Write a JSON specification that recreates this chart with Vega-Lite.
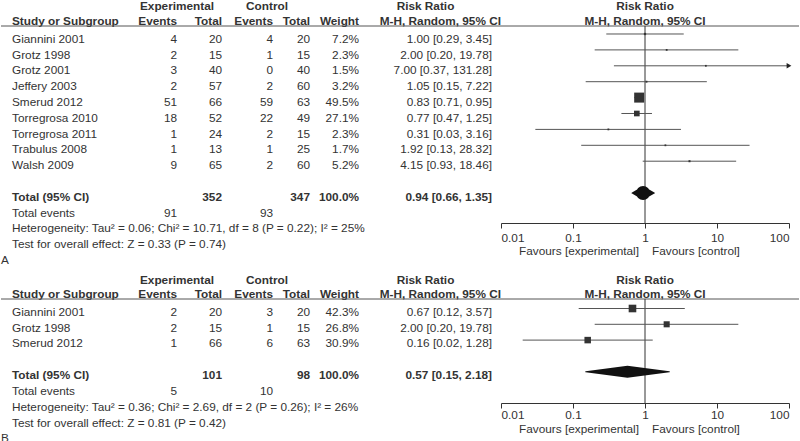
{
"$schema": "https://vega.github.io/schema/vega-lite/v6.json",
"padding": 0,
"background": "white",
"spacing": 0,
"bounds": "flush",
"columns": 10,
"config": {"view": {"stroke": null}, "text": {"font": "Liberation Sans", "fontSize": 11.8, "color": "#333"}},
"datasets": {
"tbl": [
{"p":"A","k":"st","row":0,"s":"Giannini 2001","ee":4,"et":20,"ce":4,"ct":20,"wt":"7.2%","w":7.2,"rt":"1.00 [0.29, 3.45]","rr":1.0,"lo":0.29,"hi":3.45},
{"p":"A","k":"st","row":1,"s":"Grotz 1998","ee":2,"et":15,"ce":1,"ct":15,"wt":"2.3%","w":2.3,"rt":"2.00 [0.20, 19.78]","rr":2.0,"lo":0.2,"hi":19.78},
{"p":"A","k":"st","row":2,"s":"Grotz 2001","ee":3,"et":40,"ce":0,"ct":40,"wt":"1.5%","w":1.5,"rt":"7.00 [0.37, 131.28]","rr":7.0,"lo":0.37,"hi":131.28},
{"p":"A","k":"st","row":3,"s":"Jeffery 2003","ee":2,"et":57,"ce":2,"ct":60,"wt":"3.2%","w":3.2,"rt":"1.05 [0.15, 7.22]","rr":1.05,"lo":0.15,"hi":7.22},
{"p":"A","k":"st","row":4,"s":"Smerud 2012","ee":51,"et":66,"ce":59,"ct":63,"wt":"49.5%","w":49.5,"rt":"0.83 [0.71, 0.95]","rr":0.83,"lo":0.71,"hi":0.95},
{"p":"A","k":"st","row":5,"s":"Torregrosa 2010","ee":18,"et":52,"ce":22,"ct":49,"wt":"27.1%","w":27.1,"rt":"0.77 [0.47, 1.25]","rr":0.77,"lo":0.47,"hi":1.25},
{"p":"A","k":"st","row":6,"s":"Torregrosa 2011","ee":1,"et":24,"ce":2,"ct":15,"wt":"2.3%","w":2.3,"rt":"0.31 [0.03, 3.16]","rr":0.31,"lo":0.03,"hi":3.16},
{"p":"A","k":"st","row":7,"s":"Trabulus 2008","ee":1,"et":13,"ce":1,"ct":25,"wt":"1.7%","w":1.7,"rt":"1.92 [0.13, 28.32]","rr":1.92,"lo":0.13,"hi":28.32},
{"p":"A","k":"st","row":8,"s":"Walsh 2009","ee":9,"et":65,"ce":2,"ct":60,"wt":"5.2%","w":5.2,"rt":"4.15 [0.93, 18.46]","rr":4.15,"lo":0.93,"hi":18.46},
{"p":"A","k":"tot","row":10,"s":"Total (95% CI)","et":352,"ct":347,"wt":"100.0%","rt":"0.94 [0.66, 1.35]","rr":0.94,"lo":0.66,"hi":1.35},
{"p":"A","k":"ev","row":11,"s":"Total events","ee":91,"ce":93},
{"p":"A","k":"note","row":12,"s":"Heterogeneity: Tau² = 0.06; Chi² = 10.71, df = 8 (P = 0.22); I² = 25%"},
{"p":"A","k":"note","row":13,"s":"Test for overall effect: Z = 0.33 (P = 0.74)"},
{"p":"A","k":"lab","row":14,"lab":"A"},
{"p":"B","k":"st","row":0,"s":"Giannini 2001","ee":2,"et":20,"ce":3,"ct":20,"wt":"42.3%","w":42.3,"rt":"0.67 [0.12, 3.57]","rr":0.67,"lo":0.12,"hi":3.57},
{"p":"B","k":"st","row":1,"s":"Grotz 1998","ee":2,"et":15,"ce":1,"ct":15,"wt":"26.8%","w":26.8,"rt":"2.00 [0.20, 19.78]","rr":2.0,"lo":0.2,"hi":19.78},
{"p":"B","k":"st","row":2,"s":"Smerud 2012","ee":1,"et":66,"ce":6,"ct":63,"wt":"30.9%","w":30.9,"rt":"0.16 [0.02, 1.28]","rr":0.16,"lo":0.02,"hi":1.28},
{"p":"B","k":"tot","row":4,"s":"Total (95% CI)","et":101,"ct":98,"wt":"100.0%","rt":"0.57 [0.15, 2.18]","rr":0.57,"lo":0.15,"hi":2.18},
{"p":"B","k":"ev","row":5,"s":"Total events","ee":5,"ce":10},
{"p":"B","k":"note","row":6,"s":"Heterogeneity: Tau² = 0.36; Chi² = 2.69, df = 2 (P = 0.26); I² = 26%"},
{"p":"B","k":"note","row":7,"s":"Test for overall effect: Z = 0.81 (P = 0.42)"},
{"p":"B","k":"lab","row":8,"lab":"B"}
],
"hdr": [
{"v":"study","h":2,"t":"Study or Subgroup"},
{"v":"expE","h":1,"t":"Experimental","a":"c"},
{"v":"expE","h":2,"t":"Events","a":"r"},
{"v":"expT","h":2,"t":"Total"},
{"v":"ctl1","h":1,"t":"Control"},
{"v":"ctl2","h":2,"t":"Events"},
{"v":"ctlT","h":2,"t":"Total"},
{"v":"wt","h":2,"t":"Weight"},
{"v":"rr1","h":1,"t":"Risk Ratio"},
{"v":"rr2","h":2,"t":"M-H, Random, 95% CI"},
{"v":"fp","h":1,"t":"Risk Ratio"},
{"v":"fp","h":2,"t":"M-H, Random, 95% CI"}
]
},
"concat": [
 {"width":22,"height":26,"layer":[
  {"data":{"name":"hdr"},"transform":[{"filter":"datum.v=='study'"}],"mark":{"type":"text","align":"left","fontWeight":"bold"},"encoding":{"y":{"field":"h","type":"quantitative","scale":{"domain":[0.5563,2.3873],"reverse":true,"nice":false,"zero":false},"axis":null},"text":{"field":"t"}}},
  {"data":{"values":[{}]},"mark":{"type":"rule","color":"#555"},"encoding":{"y":{"value":"height"}}}]},
 {"width":154,"height":26,"layer":[
  {"data":{"name":"hdr"},"transform":[{"filter":"datum.v=='expE' && datum.a=='c'"}],"mark":{"type":"text","fontWeight":"bold"},"encoding":{"x":{"value":"width"},"y":{"field":"h","type":"quantitative","scale":{"domain":[0.5563,2.3873],"reverse":true,"nice":false,"zero":false},"axis":null},"text":{"field":"t"}}},
  {"data":{"name":"hdr"},"transform":[{"filter":"datum.v=='expE' && datum.a=='r'"}],"mark":{"type":"text","align":"right","fontWeight":"bold"},"encoding":{"x":{"value":"width"},"y":{"field":"h","type":"quantitative","scale":{"domain":[0.5563,2.3873],"reverse":true,"nice":false,"zero":false},"axis":null},"text":{"field":"t"}}},
  {"data":{"values":[{}]},"mark":{"type":"rule","color":"#555"},"encoding":{"y":{"value":"height"}}}]},
 {"width":45,"height":26,"layer":[
  {"data":{"name":"hdr"},"transform":[{"filter":"datum.v=='expT'"}],"mark":{"type":"text","align":"right","fontWeight":"bold"},"encoding":{"x":{"value":"width"},"y":{"field":"h","type":"quantitative","scale":{"domain":[0.5563,2.3873],"reverse":true,"nice":false,"zero":false},"axis":null},"text":{"field":"t"}}},
  {"data":{"values":[{}]},"mark":{"type":"rule","color":"#555"},"encoding":{"y":{"value":"height"}}}]},
 {"width":45,"height":26,"layer":[
  {"data":{"name":"hdr"},"transform":[{"filter":"datum.v=='ctl1'"}],"mark":{"type":"text","fontWeight":"bold"},"encoding":{"x":{"value":"width"},"y":{"field":"h","type":"quantitative","scale":{"domain":[0.5563,2.3873],"reverse":true,"nice":false,"zero":false},"axis":null},"text":{"field":"t"}}},
  {"data":{"values":[{}]},"mark":{"type":"rule","color":"#555"},"encoding":{"y":{"value":"height"}}}]},
 {"width":6,"height":26,"layer":[
  {"data":{"name":"hdr"},"transform":[{"filter":"datum.v=='ctl2'"}],"mark":{"type":"text","align":"right","fontWeight":"bold"},"encoding":{"x":{"value":"width"},"y":{"field":"h","type":"quantitative","scale":{"domain":[0.5563,2.3873],"reverse":true,"nice":false,"zero":false},"axis":null},"text":{"field":"t"}}},
  {"data":{"values":[{}]},"mark":{"type":"rule","color":"#555"},"encoding":{"y":{"value":"height"}}}]},
 {"width":37,"height":26,"layer":[
  {"data":{"name":"hdr"},"transform":[{"filter":"datum.v=='ctlT'"}],"mark":{"type":"text","align":"right","fontWeight":"bold"},"encoding":{"x":{"value":"width"},"y":{"field":"h","type":"quantitative","scale":{"domain":[0.5563,2.3873],"reverse":true,"nice":false,"zero":false},"axis":null},"text":{"field":"t"}}},
  {"data":{"values":[{}]},"mark":{"type":"rule","color":"#555"},"encoding":{"y":{"value":"height"}}}]},
 {"width":49,"height":26,"layer":[
  {"data":{"name":"hdr"},"transform":[{"filter":"datum.v=='wt'"}],"mark":{"type":"text","align":"right","fontWeight":"bold"},"encoding":{"x":{"value":"width"},"y":{"field":"h","type":"quantitative","scale":{"domain":[0.5563,2.3873],"reverse":true,"nice":false,"zero":false},"axis":null},"text":{"field":"t"}}},
  {"data":{"values":[{}]},"mark":{"type":"rule","color":"#555"},"encoding":{"y":{"value":"height"}}}]},
 {"width":133,"height":26,"layer":[
  {"data":{"name":"hdr"},"transform":[{"filter":"datum.v=='rr1'"}],"mark":{"type":"text","fontWeight":"bold"},"encoding":{"y":{"field":"h","type":"quantitative","scale":{"domain":[0.5563,2.3873],"reverse":true,"nice":false,"zero":false},"axis":null},"text":{"field":"t"}}},
  {"data":{"values":[{}]},"mark":{"type":"rule","color":"#555"},"encoding":{"y":{"value":"height"}}}]},
 {"width":9,"height":26,"layer":[
  {"data":{"name":"hdr"},"transform":[{"filter":"datum.v=='rr2'"}],"mark":{"type":"text","align":"right","fontWeight":"bold"},"encoding":{"x":{"value":"width"},"y":{"field":"h","type":"quantitative","scale":{"domain":[0.5563,2.3873],"reverse":true,"nice":false,"zero":false},"axis":null},"text":{"field":"t"}}},
  {"data":{"values":[{}]},"mark":{"type":"rule","color":"#555"},"encoding":{"y":{"value":"height"}}}]},
 {"width":298,"height":26,"layer":[
  {"data":{"name":"hdr"},"transform":[{"filter":"datum.v=='fp'"}],"mark":{"type":"text","fontWeight":"bold"},"encoding":{"x":{"datum":1,"type":"quantitative","scale":{"type":"log","domain":[0.01,100],"range":[0,288]},"axis":null},"y":{"field":"h","type":"quantitative","scale":{"domain":[0.5563,2.3873],"reverse":true,"nice":false,"zero":false},"axis":null},"text":{"field":"t"}}},
  {"data":{"values":[{}]},"mark":{"type":"rule","color":"#555"},"encoding":{"y":{"value":"height"}}}]},

 {"width":22,"height":197,"data":{"name":"tbl"},"transform":[{"filter":"datum.p=='A'"}],"encoding":{"y":{"field":"row","type":"quantitative","scale":{"domain":[-0.8101,11.6583],"reverse":true,"nice":false,"zero":false},"axis":null}},"layer":[
  {"transform":[{"filter":"isValid(datum.s) && datum.k!='tot'"}],"mark":{"type":"text","align":"left"},"encoding":{"text":{"field":"s"}}},
  {"transform":[{"filter":"datum.k=='tot'"}],"mark":{"type":"text","align":"left","fontWeight":"bold"},"encoding":{"text":{"field":"s"}}},
  {"transform":[{"filter":"datum.k=='lab'"}],"mark":{"type":"text","align":"left"},"encoding":{"x":{"value":0},"text":{"field":"lab"}}}]},
 {"width":154,"height":197,"data":{"name":"tbl"},"transform":[{"filter":"datum.p=='A' && isValid(datum.ee)"}],"mark":{"type":"text","align":"right"},"encoding":{"x":{"value":"width"},"y":{"field":"row","type":"quantitative","scale":{"domain":[-0.8101,11.6583],"reverse":true,"nice":false,"zero":false},"axis":null},"text":{"field":"ee"}}},
 {"width":45,"height":197,"data":{"name":"tbl"},"transform":[{"filter":"datum.p=='A' && isValid(datum.et)"}],"encoding":{"x":{"value":"width"},"y":{"field":"row","type":"quantitative","scale":{"domain":[-0.8101,11.6583],"reverse":true,"nice":false,"zero":false},"axis":null},"text":{"field":"et"}},"layer":[
  {"transform":[{"filter":"datum.k!='tot'"}],"mark":{"type":"text","align":"right"}},
  {"transform":[{"filter":"datum.k=='tot'"}],"mark":{"type":"text","align":"right","fontWeight":"bold"}}]},
 {"width":45,"height":197,"data":{"values":[{}]},"mark":{"type":"text","text":""}},
 {"width":6,"height":197,"data":{"name":"tbl"},"transform":[{"filter":"datum.p=='A' && isValid(datum.ce)"}],"mark":{"type":"text","align":"right"},"encoding":{"x":{"value":"width"},"y":{"field":"row","type":"quantitative","scale":{"domain":[-0.8101,11.6583],"reverse":true,"nice":false,"zero":false},"axis":null},"text":{"field":"ce"}}},
 {"width":37,"height":197,"data":{"name":"tbl"},"transform":[{"filter":"datum.p=='A' && isValid(datum.ct)"}],"encoding":{"x":{"value":"width"},"y":{"field":"row","type":"quantitative","scale":{"domain":[-0.8101,11.6583],"reverse":true,"nice":false,"zero":false},"axis":null},"text":{"field":"ct"}},"layer":[
  {"transform":[{"filter":"datum.k!='tot'"}],"mark":{"type":"text","align":"right"}},
  {"transform":[{"filter":"datum.k=='tot'"}],"mark":{"type":"text","align":"right","fontWeight":"bold"}}]},
 {"width":49,"height":197,"data":{"name":"tbl"},"transform":[{"filter":"datum.p=='A' && isValid(datum.wt)"}],"encoding":{"x":{"value":"width"},"y":{"field":"row","type":"quantitative","scale":{"domain":[-0.8101,11.6583],"reverse":true,"nice":false,"zero":false},"axis":null},"text":{"field":"wt"}},"layer":[
  {"transform":[{"filter":"datum.k!='tot'"}],"mark":{"type":"text","align":"right"}},
  {"transform":[{"filter":"datum.k=='tot'"}],"mark":{"type":"text","align":"right","fontWeight":"bold"}}]},
 {"width":133,"height":197,"data":{"name":"tbl"},"transform":[{"filter":"datum.p=='A' && isValid(datum.rt)"}],"encoding":{"x":{"value":"width"},"y":{"field":"row","type":"quantitative","scale":{"domain":[-0.8101,11.6583],"reverse":true,"nice":false,"zero":false},"axis":null},"text":{"field":"rt"}},"layer":[
  {"transform":[{"filter":"datum.k!='tot'"}],"mark":{"type":"text","align":"right"}},
  {"transform":[{"filter":"datum.k=='tot'"}],"mark":{"type":"text","align":"right","fontWeight":"bold"}}]},
 {"width":9,"height":197,"data":{"values":[{}]},"mark":{"type":"text","text":""}},
 {"width":298,"height":197,"data":{"name":"tbl"},"transform":[{"filter":"datum.p=='A'"}],"resolve":{"scale":{"size":"independent"}},"layer":[
  {"data":{"values":[{}]},"mark":{"type":"rule","color":"#333"},"encoding":{"x":{"datum":1,"type":"quantitative","scale":{"type":"log","domain":[0.01,100],"range":[0,288],"clamp":true}}}},
  {"transform":[{"filter":"datum.k=='st'"}],"mark":{"type":"rule","color":"#555"},"encoding":{"x":{"field":"lo","type":"quantitative","scale":{"type":"log","domain":[0.01,100],"range":[0,288],"clamp":true},"axis":{"orient":"bottom","values":[0.01,0.1,1,10,100],"format":"~g","labelFlush":true,"title":null,"grid":false,"tickSize":5,"labelPadding":4,"domainColor":"#333","tickColor":"#333","labelColor":"#333","labelFont":"Liberation Sans","labelFontSize":11.8,"labelOverlap":false}},"x2":{"field":"hi"},"y":{"field":"row","type":"quantitative","scale":{"domain":[-0.5031,11.8868],"reverse":true,"nice":false,"zero":false},"axis":null}}},
  {"transform":[{"filter":"datum.k=='st'"}],"mark":{"type":"point","shape":"square","filled":true,"color":"#333","opacity":1},"encoding":{"x":{"field":"rr","type":"quantitative"},"y":{"field":"row","type":"quantitative"},"size":{"field":"w","type":"quantitative","scale":{"type":"pow","exponent":2,"domain":[0,49.5],"range":[3,100]},"legend":null}}},
  {"transform":[{"filter":"datum.hi>100"}],"mark":{"type":"point","shape":"triangle-right","filled":true,"color":"#222","opacity":1,"size":30},"encoding":{"x":{"field":"hi","type":"quantitative"},"y":{"field":"row","type":"quantitative"}}},
  {"transform":[{"filter":"datum.k=='tot'"},{"fold":["lo","rr","hi"],"as":["key","val"]}],"mark":{"type":"trail","color":"#111"},"encoding":{"x":{"field":"val","type":"quantitative"},"y":{"field":"row","type":"quantitative"},"size":{"field":"key","type":"nominal","scale":{"type":"ordinal","domain":["lo","rr","hi"],"range":[0,14,0]},"legend":null}}},
  {"data":{"values":[{}]},"mark":{"type":"text","align":"right","dx":-6,"dy":28,"text":"Favours [experimental]"},"encoding":{"x":{"datum":1,"type":"quantitative"},"y":{"value":"height"}}},
  {"data":{"values":[{}]},"mark":{"type":"text","align":"left","dx":7,"dy":28,"text":"Favours [control]"},"encoding":{"x":{"datum":1,"type":"quantitative"},"y":{"value":"height"}}}]},

 {"width":22,"height":76,"layer":[
  {"data":{"name":"hdr"},"transform":[{"filter":"datum.v=='study'"}],"mark":{"type":"text","align":"left","fontWeight":"bold"},"encoding":{"y":{"field":"h","type":"quantitative","scale":{"domain":[-3.1071,2.3215],"reverse":true,"nice":false,"zero":false},"axis":null},"text":{"field":"t"}}},
  {"data":{"values":[{}]},"mark":{"type":"rule","color":"#555"},"encoding":{"y":{"value":"height"}}}]},
 {"width":154,"height":76,"layer":[
  {"data":{"name":"hdr"},"transform":[{"filter":"datum.v=='expE' && datum.a=='c'"}],"mark":{"type":"text","fontWeight":"bold"},"encoding":{"x":{"value":"width"},"y":{"field":"h","type":"quantitative","scale":{"domain":[-3.1071,2.3215],"reverse":true,"nice":false,"zero":false},"axis":null},"text":{"field":"t"}}},
  {"data":{"name":"hdr"},"transform":[{"filter":"datum.v=='expE' && datum.a=='r'"}],"mark":{"type":"text","align":"right","fontWeight":"bold"},"encoding":{"x":{"value":"width"},"y":{"field":"h","type":"quantitative","scale":{"domain":[-3.1071,2.3215],"reverse":true,"nice":false,"zero":false},"axis":null},"text":{"field":"t"}}},
  {"data":{"values":[{}]},"mark":{"type":"rule","color":"#555"},"encoding":{"y":{"value":"height"}}}]},
 {"width":45,"height":76,"layer":[
  {"data":{"name":"hdr"},"transform":[{"filter":"datum.v=='expT'"}],"mark":{"type":"text","align":"right","fontWeight":"bold"},"encoding":{"x":{"value":"width"},"y":{"field":"h","type":"quantitative","scale":{"domain":[-3.1071,2.3215],"reverse":true,"nice":false,"zero":false},"axis":null},"text":{"field":"t"}}},
  {"data":{"values":[{}]},"mark":{"type":"rule","color":"#555"},"encoding":{"y":{"value":"height"}}}]},
 {"width":45,"height":76,"layer":[
  {"data":{"name":"hdr"},"transform":[{"filter":"datum.v=='ctl1'"}],"mark":{"type":"text","fontWeight":"bold"},"encoding":{"x":{"value":"width"},"y":{"field":"h","type":"quantitative","scale":{"domain":[-3.1071,2.3215],"reverse":true,"nice":false,"zero":false},"axis":null},"text":{"field":"t"}}},
  {"data":{"values":[{}]},"mark":{"type":"rule","color":"#555"},"encoding":{"y":{"value":"height"}}}]},
 {"width":6,"height":76,"layer":[
  {"data":{"name":"hdr"},"transform":[{"filter":"datum.v=='ctl2'"}],"mark":{"type":"text","align":"right","fontWeight":"bold"},"encoding":{"x":{"value":"width"},"y":{"field":"h","type":"quantitative","scale":{"domain":[-3.1071,2.3215],"reverse":true,"nice":false,"zero":false},"axis":null},"text":{"field":"t"}}},
  {"data":{"values":[{}]},"mark":{"type":"rule","color":"#555"},"encoding":{"y":{"value":"height"}}}]},
 {"width":37,"height":76,"layer":[
  {"data":{"name":"hdr"},"transform":[{"filter":"datum.v=='ctlT'"}],"mark":{"type":"text","align":"right","fontWeight":"bold"},"encoding":{"x":{"value":"width"},"y":{"field":"h","type":"quantitative","scale":{"domain":[-3.1071,2.3215],"reverse":true,"nice":false,"zero":false},"axis":null},"text":{"field":"t"}}},
  {"data":{"values":[{}]},"mark":{"type":"rule","color":"#555"},"encoding":{"y":{"value":"height"}}}]},
 {"width":49,"height":76,"layer":[
  {"data":{"name":"hdr"},"transform":[{"filter":"datum.v=='wt'"}],"mark":{"type":"text","align":"right","fontWeight":"bold"},"encoding":{"x":{"value":"width"},"y":{"field":"h","type":"quantitative","scale":{"domain":[-3.1071,2.3215],"reverse":true,"nice":false,"zero":false},"axis":null},"text":{"field":"t"}}},
  {"data":{"values":[{}]},"mark":{"type":"rule","color":"#555"},"encoding":{"y":{"value":"height"}}}]},
 {"width":133,"height":76,"layer":[
  {"data":{"name":"hdr"},"transform":[{"filter":"datum.v=='rr1'"}],"mark":{"type":"text","fontWeight":"bold"},"encoding":{"y":{"field":"h","type":"quantitative","scale":{"domain":[-3.1071,2.3215],"reverse":true,"nice":false,"zero":false},"axis":null},"text":{"field":"t"}}},
  {"data":{"values":[{}]},"mark":{"type":"rule","color":"#555"},"encoding":{"y":{"value":"height"}}}]},
 {"width":9,"height":76,"layer":[
  {"data":{"name":"hdr"},"transform":[{"filter":"datum.v=='rr2'"}],"mark":{"type":"text","align":"right","fontWeight":"bold"},"encoding":{"x":{"value":"width"},"y":{"field":"h","type":"quantitative","scale":{"domain":[-3.1071,2.3215],"reverse":true,"nice":false,"zero":false},"axis":null},"text":{"field":"t"}}},
  {"data":{"values":[{}]},"mark":{"type":"rule","color":"#555"},"encoding":{"y":{"value":"height"}}}]},
 {"width":298,"height":76,"layer":[
  {"data":{"name":"hdr"},"transform":[{"filter":"datum.v=='fp'"}],"mark":{"type":"text","fontWeight":"bold"},"encoding":{"x":{"datum":1,"type":"quantitative","scale":{"type":"log","domain":[0.01,100],"range":[0,288]},"axis":null},"y":{"field":"h","type":"quantitative","scale":{"domain":[-3.1071,2.3215],"reverse":true,"nice":false,"zero":false},"axis":null},"text":{"field":"t"}}},
  {"data":{"values":[{}]},"mark":{"type":"rule","color":"#555"},"encoding":{"y":{"value":"height"}}}]},

 {"width":22,"height":104,"data":{"name":"tbl"},"transform":[{"filter":"datum.p=='B'"}],"encoding":{"y":{"field":"row","type":"quantitative","scale":{"domain":[-0.8023,5.7675],"reverse":true,"nice":false,"zero":false},"axis":null}},"layer":[
  {"transform":[{"filter":"isValid(datum.s) && datum.k!='tot'"}],"mark":{"type":"text","align":"left"},"encoding":{"text":{"field":"s"}}},
  {"transform":[{"filter":"datum.k=='tot'"}],"mark":{"type":"text","align":"left","fontWeight":"bold"},"encoding":{"text":{"field":"s"}}},
  {"transform":[{"filter":"datum.k=='lab'"}],"mark":{"type":"text","align":"left"},"encoding":{"x":{"value":0},"text":{"field":"lab"}}}]},
 {"width":154,"height":104,"data":{"name":"tbl"},"transform":[{"filter":"datum.p=='B' && isValid(datum.ee)"}],"mark":{"type":"text","align":"right"},"encoding":{"x":{"value":"width"},"y":{"field":"row","type":"quantitative","scale":{"domain":[-0.8023,5.7675],"reverse":true,"nice":false,"zero":false},"axis":null},"text":{"field":"ee"}}},
 {"width":45,"height":104,"data":{"name":"tbl"},"transform":[{"filter":"datum.p=='B' && isValid(datum.et)"}],"encoding":{"x":{"value":"width"},"y":{"field":"row","type":"quantitative","scale":{"domain":[-0.8023,5.7675],"reverse":true,"nice":false,"zero":false},"axis":null},"text":{"field":"et"}},"layer":[
  {"transform":[{"filter":"datum.k!='tot'"}],"mark":{"type":"text","align":"right"}},
  {"transform":[{"filter":"datum.k=='tot'"}],"mark":{"type":"text","align":"right","fontWeight":"bold"}}]},
 {"width":45,"height":104,"data":{"values":[{}]},"mark":{"type":"text","text":""}},
 {"width":6,"height":104,"data":{"name":"tbl"},"transform":[{"filter":"datum.p=='B' && isValid(datum.ce)"}],"mark":{"type":"text","align":"right"},"encoding":{"x":{"value":"width"},"y":{"field":"row","type":"quantitative","scale":{"domain":[-0.8023,5.7675],"reverse":true,"nice":false,"zero":false},"axis":null},"text":{"field":"ce"}}},
 {"width":37,"height":104,"data":{"name":"tbl"},"transform":[{"filter":"datum.p=='B' && isValid(datum.ct)"}],"encoding":{"x":{"value":"width"},"y":{"field":"row","type":"quantitative","scale":{"domain":[-0.8023,5.7675],"reverse":true,"nice":false,"zero":false},"axis":null},"text":{"field":"ct"}},"layer":[
  {"transform":[{"filter":"datum.k!='tot'"}],"mark":{"type":"text","align":"right"}},
  {"transform":[{"filter":"datum.k=='tot'"}],"mark":{"type":"text","align":"right","fontWeight":"bold"}}]},
 {"width":49,"height":104,"data":{"name":"tbl"},"transform":[{"filter":"datum.p=='B' && isValid(datum.wt)"}],"encoding":{"x":{"value":"width"},"y":{"field":"row","type":"quantitative","scale":{"domain":[-0.8023,5.7675],"reverse":true,"nice":false,"zero":false},"axis":null},"text":{"field":"wt"}},"layer":[
  {"transform":[{"filter":"datum.k!='tot'"}],"mark":{"type":"text","align":"right"}},
  {"transform":[{"filter":"datum.k=='tot'"}],"mark":{"type":"text","align":"right","fontWeight":"bold"}}]},
 {"width":133,"height":104,"data":{"name":"tbl"},"transform":[{"filter":"datum.p=='B' && isValid(datum.rt)"}],"encoding":{"x":{"value":"width"},"y":{"field":"row","type":"quantitative","scale":{"domain":[-0.8023,5.7675],"reverse":true,"nice":false,"zero":false},"axis":null},"text":{"field":"rt"}},"layer":[
  {"transform":[{"filter":"datum.k!='tot'"}],"mark":{"type":"text","align":"right"}},
  {"transform":[{"filter":"datum.k=='tot'"}],"mark":{"type":"text","align":"right","fontWeight":"bold"}}]},
 {"width":9,"height":104,"data":{"values":[{}]},"mark":{"type":"text","text":""}},
 {"width":298,"height":104,"data":{"name":"tbl"},"transform":[{"filter":"datum.p=='B'"}],"resolve":{"scale":{"size":"independent"}},"layer":[
  {"data":{"values":[{}]},"mark":{"type":"rule","color":"#333"},"encoding":{"x":{"datum":1,"type":"quantitative","scale":{"type":"log","domain":[0.01,100],"range":[0,288],"clamp":true}}}},
  {"transform":[{"filter":"datum.k=='st'"}],"mark":{"type":"rule","color":"#555"},"encoding":{"x":{"field":"lo","type":"quantitative","scale":{"type":"log","domain":[0.01,100],"range":[0,288],"clamp":true},"axis":{"orient":"bottom","values":[0.01,0.1,1,10,100],"format":"~g","labelFlush":true,"title":null,"grid":false,"tickSize":5,"labelPadding":1.6,"domainColor":"#333","tickColor":"#333","labelColor":"#333","labelFont":"Liberation Sans","labelFontSize":11.8,"labelOverlap":false}},"x2":{"field":"hi"},"y":{"field":"row","type":"quantitative","scale":{"domain":[-0.6013,5.981],"reverse":true,"nice":false,"zero":false},"axis":null}}},
  {"transform":[{"filter":"datum.k=='st'"}],"mark":{"type":"point","shape":"square","filled":true,"color":"#333","opacity":1},"encoding":{"x":{"field":"rr","type":"quantitative"},"y":{"field":"row","type":"quantitative"},"size":{"field":"w","type":"quantitative","scale":{"domain":[0,43],"range":[0,59]},"legend":null}}},
  {"transform":[{"filter":"datum.k=='tot'"},{"fold":["lo","rr","hi"],"as":["key","val"]}],"mark":{"type":"trail","color":"#111"},"encoding":{"x":{"field":"val","type":"quantitative"},"y":{"field":"row","type":"quantitative"},"size":{"field":"key","type":"nominal","scale":{"type":"ordinal","domain":["lo","rr","hi"],"range":[0,12,0]},"legend":null}}},
  {"data":{"values":[{}]},"mark":{"type":"text","align":"right","dx":-6,"dy":26.4,"text":"Favours [experimental]"},"encoding":{"x":{"datum":1,"type":"quantitative"},"y":{"value":"height"}}},
  {"data":{"values":[{}]},"mark":{"type":"text","align":"left","dx":7,"dy":26.4,"text":"Favours [control]"},"encoding":{"x":{"datum":1,"type":"quantitative"},"y":{"value":"height"}}}]}
]
}
